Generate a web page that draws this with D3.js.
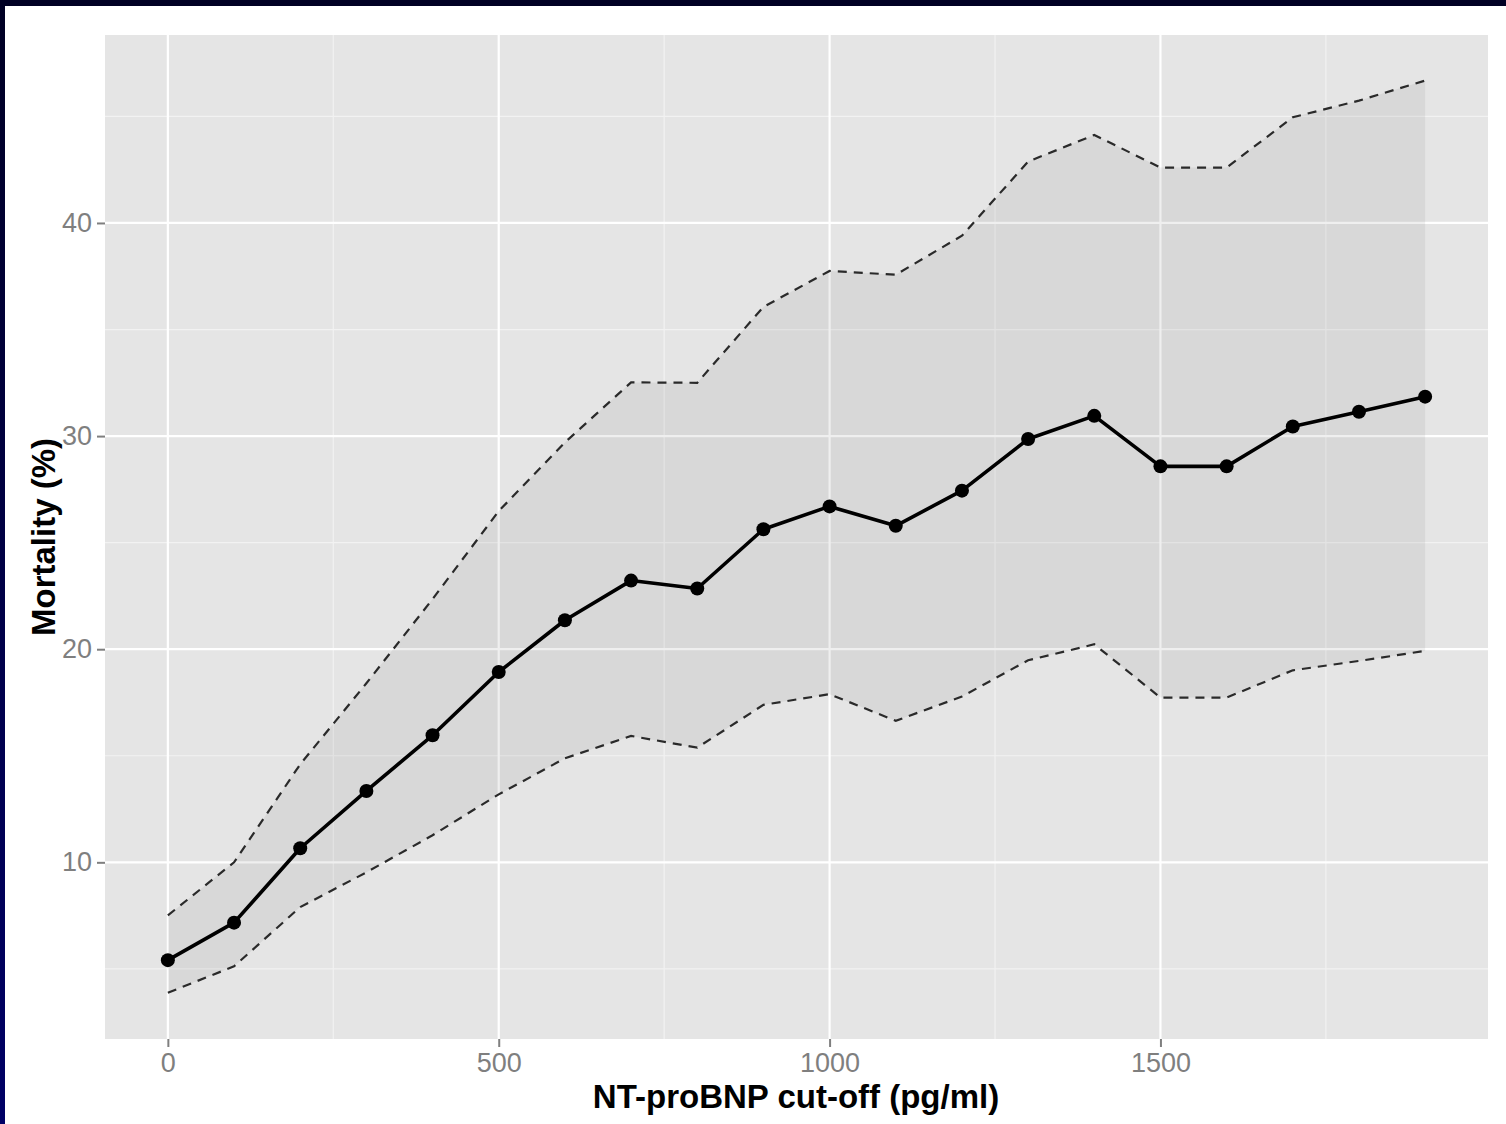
<!DOCTYPE html>
<html>
<head>
<meta charset="utf-8">
<script src="https://cdn.jsdelivr.net/npm/d3@7"></script>
<style>
  html, body { margin: 0; padding: 0; background: #ffffff; }
  svg { display: block; }
</style>
</head>
<body>
<svg id="chart" width="1506" height="1124"></svg>
<script>
// ---- data ----
const cutoffs = [0, 100, 200, 300, 400, 500, 600, 700, 800, 900, 1000, 1100, 1200, 1300, 1400, 1500, 1600, 1700, 1800, 1900];
const mortality = [5.41, 7.17, 10.66, 13.35, 15.96, 18.93, 21.36, 23.22, 22.85, 25.63, 26.7, 25.79, 27.44, 29.86, 30.95, 28.58, 28.58, 30.45, 31.14, 31.85];
const upperCI = [7.51, 10.0, 14.6, 18.4, 22.35, 26.48, 29.7, 32.52, 32.5, 36.06, 37.75, 37.57, 39.4, 42.88, 44.13, 42.6, 42.6, 44.96, 45.74, 46.68];
const lowerCI = [3.88, 5.12, 7.9, 9.53, 11.27, 13.19, 14.88, 15.93, 15.38, 17.39, 17.89, 16.64, 17.78, 19.48, 20.23, 17.73, 17.73, 19.01, 19.45, 19.92];
const xTicks = [0, 500, 1000, 1500];
const xMinor = [250, 750, 1250, 1750];
const yTicks = [10, 20, 30, 40];
const yMinor = [5, 15, 25, 35, 45];
const xTitle = "NT-proBNP cut-off (pg/ml)";
const yTitle = "Mortality (%)";

const rows = cutoffs.map((c, i) => ({ x: c, y: mortality[i], lo: lowerCI[i], hi: upperCI[i] }));

const svg = d3.select("#chart");
const W = 1506, H = 1124;

// frame
const defs = svg.append("defs");
const grad = defs.append("linearGradient").attr("id", "leftbar").attr("x1", 0).attr("y1", 0).attr("x2", 0).attr("y2", 1);
grad.append("stop").attr("offset", "0%").attr("stop-color", "#000024");
grad.append("stop").attr("offset", "100%").attr("stop-color", "#000066");
svg.append("rect").attr("x", 0).attr("y", 0).attr("width", W).attr("height", H).attr("fill", "#ffffff");
svg.append("rect").attr("x", 0).attr("y", 0).attr("width", 5).attr("height", H).attr("fill", "url(#leftbar)");
svg.append("rect").attr("x", 0).attr("y", 0).attr("width", W).attr("height", 6).attr("fill", "#000024");

// panel
const P = { left: 105, right: 1488, top: 35, bottom: 1039 };
const x = d3.scaleLinear().domain([-95, 1995]).range([P.left, P.right]);
const y = d3.scaleLinear().domain([1.71, 48.82]).range([P.bottom, P.top]);

svg.append("rect").attr("x", P.left).attr("y", P.top)
  .attr("width", P.right - P.left).attr("height", P.bottom - P.top).attr("fill", "#E5E5E5");

const grid = svg.append("g");
grid.selectAll(".xminor").data(xMinor).enter().append("line")
  .attr("x1", d => x(d)).attr("x2", d => x(d)).attr("y1", P.top).attr("y2", P.bottom)
  .attr("stroke", "#F2F2F2").attr("stroke-width", 1.2);
grid.selectAll(".yminor").data(yMinor).enter().append("line")
  .attr("y1", d => y(d)).attr("y2", d => y(d)).attr("x1", P.left).attr("x2", P.right)
  .attr("stroke", "#F2F2F2").attr("stroke-width", 1.2);
grid.selectAll(".xmajor").data(xTicks).enter().append("line")
  .attr("x1", d => x(d)).attr("x2", d => x(d)).attr("y1", P.top).attr("y2", P.bottom)
  .attr("stroke", "#FFFFFF").attr("stroke-width", 2.2);
grid.selectAll(".ymajor").data(yTicks).enter().append("line")
  .attr("y1", d => y(d)).attr("y2", d => y(d)).attr("x1", P.left).attr("x2", P.right)
  .attr("stroke", "#FFFFFF").attr("stroke-width", 2.2);

// ribbon
const area = d3.area().x(d => x(d.x)).y0(d => y(d.lo)).y1(d => y(d.hi));
svg.append("path").datum(rows).attr("d", area).attr("fill", "#808080").attr("fill-opacity", 0.13);

// dashed CI lines
const lineHi = d3.line().x(d => x(d.x)).y(d => y(d.hi));
const lineLo = d3.line().x(d => x(d.x)).y(d => y(d.lo));
[lineHi, lineLo].forEach(l => {
  svg.append("path").datum(rows).attr("d", l).attr("fill", "none")
    .attr("stroke", "#2a2a2a").attr("stroke-width", 2.2).attr("stroke-dasharray", "9,7");
});

// main line + points
const lineMain = d3.line().x(d => x(d.x)).y(d => y(d.y));
svg.append("path").datum(rows).attr("d", lineMain).attr("fill", "none")
  .attr("stroke", "#000000").attr("stroke-width", 3.6).attr("stroke-linejoin", "round");
svg.selectAll(".pt").data(rows).enter().append("circle")
  .attr("cx", d => x(d.x)).attr("cy", d => y(d.y)).attr("r", 7).attr("fill", "#000000");

// axes
const font = "'Liberation Sans', Arial, sans-serif";
const xAxis = d3.axisBottom(x).tickValues(xTicks).tickSize(8).tickPadding(6).tickFormat(d3.format("d"));
const gx = svg.append("g").attr("transform", `translate(0,${P.bottom})`).call(xAxis);
gx.select(".domain").remove();
gx.selectAll(".tick line").attr("stroke", "#7F7F7F").attr("stroke-width", 2);
gx.selectAll(".tick text").attr("fill", "#7F7F7F").style("font-family", font).style("font-size", "27px");

const yAxis = d3.axisLeft(y).tickValues(yTicks).tickSize(8).tickPadding(5).tickFormat(d3.format("d"));
const gy = svg.append("g").attr("transform", `translate(${P.left},0)`).call(yAxis);
gy.select(".domain").remove();
gy.selectAll(".tick line").attr("stroke", "#7F7F7F").attr("stroke-width", 2);
gy.selectAll(".tick text").attr("fill", "#7F7F7F").style("font-family", font).style("font-size", "27px");

// titles
svg.append("text").attr("x", 796).attr("y", 1108)
  .attr("text-anchor", "middle").style("font-family", font).style("font-size", "33px")
  .style("font-weight", "bold").attr("fill", "#000000").text(xTitle);
svg.append("text").attr("transform", `translate(55,537) rotate(-90)`)
  .attr("text-anchor", "middle").style("font-family", font).style("font-size", "33px")
  .style("font-weight", "bold").attr("fill", "#000000").text(yTitle);
</script>
</body>
</html>
